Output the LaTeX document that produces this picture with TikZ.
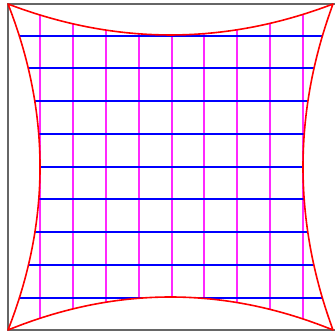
\documentclass[tikz,border=0pt]{standalone}
\usetikzlibrary{calc}
\definecolor{gridpink}{RGB}{255,40,255}

\begin{document}
\begin{tikzpicture}[
  x=1pt, y=-1pt,
  frame/.style = {draw=black!60, line width=2pt},
  rim/.style = {draw=red, line width=1.6pt, line join=round},
  hline/.style = {draw=blue, line width=2pt},
  vline/.style = {draw=gridpink, line width=2pt}
]
\useasboundingbox (0,0) rectangle (334,334);

% corners of the distorted square
\coordinate (tl) at (8,4);
\coordinate (tr) at (333,4);
\coordinate (br) at (333,330);
\coordinate (bl) at (8,330);

\draw[frame] (337,4) -- (tl) -- (bl) -- (337,330);

% grid, kept inside the bent outline
\begin{scope}
  \clip (tl) .. controls (116.3,45.3) and (224.7,45.3) .. (tr)
        .. controls (293,112.7) and (293,221.3) .. (br)
        .. controls (224.7,286) and (116.3,286) .. (bl)
        .. controls (50.7,221.3) and (50.7,112.7) .. (tl) -- cycle;
  \foreach \i in {0,...,8}
    \draw[vline] ({round(40+\i*32.875)},0) -- ({round(40+\i*32.875)},334);
  \foreach \j in {0,...,8}
    \draw[hline] (0,{round(35.5+\j*32.75)}) -- (334,{round(35.5+\j*32.75)});
\end{scope}

\draw[rim] (tl) .. controls (116.3,45.3) and (224.7,45.3) .. (tr)
      .. controls (293,112.7) and (293,221.3) .. (br)
      .. controls (224.7,286) and (116.3,286) .. (bl)
      .. controls (50.7,221.3) and (50.7,112.7) .. (tl) -- cycle;

\end{tikzpicture}
\end{document}
